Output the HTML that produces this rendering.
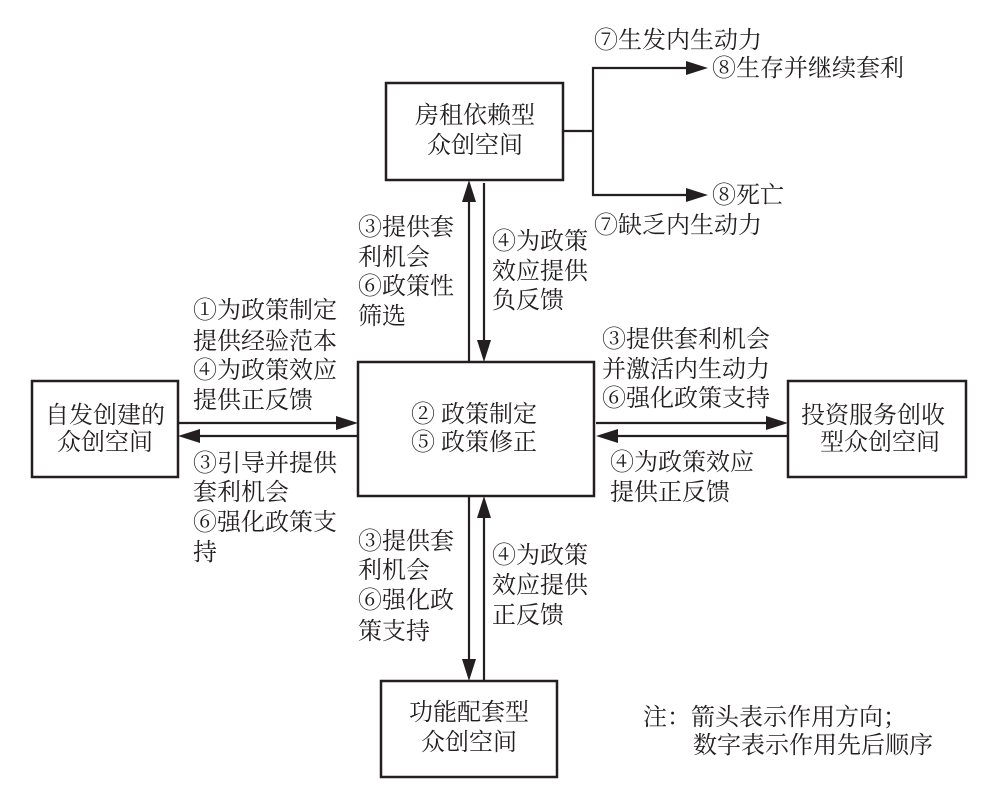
<!DOCTYPE html>
<html><head><meta charset="utf-8"><style>
html,body{margin:0;padding:0;background:#fff;}
svg{display:block;}
text{font-family:"Liberation Serif","Noto Serif CJK SC",serif;font-size:24px;fill:#231f20;}
</style></head><body>
<svg width="994" height="786" viewBox="0 0 994 786" xmlns="http://www.w3.org/2000/svg">
<g fill="none" stroke="#231f20" stroke-width="2.5">
<rect x="386" y="83" width="177" height="97"/>
<rect x="358" y="362" width="236" height="134"/>
<rect x="32" y="381" width="146" height="96"/>
<rect x="788" y="381" width="178" height="96"/>
<rect x="381" y="681" width="176" height="96"/>
</g>
<g stroke="#231f20" stroke-width="2.2" fill="none">
<polyline points="563,131 593,131"/>
<polyline points="688,68 593,68 593,195 688,195"/>
<line x1="469" y1="200" x2="469" y2="362"/>
<line x1="484" y1="183" x2="484" y2="342"/>
<line x1="178" y1="423" x2="338" y2="423"/>
<line x1="198" y1="436" x2="358" y2="436"/>
<line x1="596" y1="423" x2="768" y2="423"/>
<line x1="616" y1="436" x2="788" y2="436"/>
<line x1="469" y1="496" x2="469" y2="661"/>
<line x1="484" y1="516" x2="484" y2="681"/>
</g>
<g fill="#231f20">
<polygon points="708,68 686,61 686,75"/>
<polygon points="708,195 686,188 686,202"/>
<polygon points="469,180 462,202 476,202"/>
<polygon points="484,362 477,340 491,340"/>
<polygon points="358,423 336,416 336,430"/>
<polygon points="178,436 200,429 200,443"/>
<polygon points="788,423 766,416 766,430"/>
<polygon points="596,436 618,429 618,443"/>
<polygon points="469,681 462,659 476,659"/>
<polygon points="484,496 477,518 491,518"/>
</g>
<text x="475" y="123" text-anchor="middle">房租依赖型</text>
<text x="475" y="153" text-anchor="middle">众创空间</text>
<text x="411" y="422">② 政策制定</text>
<text x="411" y="450">⑤ 政策修正</text>
<text x="105" y="423" text-anchor="middle">自发创建的</text>
<text x="105" y="450" text-anchor="middle">众创空间</text>
<text x="801" y="423">投资服务创收</text>
<text x="820" y="450">型众创空间</text>
<text x="469" y="720" text-anchor="middle">功能配套型</text>
<text x="469" y="750" text-anchor="middle">众创空间</text>
<text x="594" y="48">⑦生发内生动力</text>
<text x="712" y="76">⑧生存并继续套利</text>
<text x="712" y="203">⑧死亡</text>
<text x="594" y="233">⑦缺乏内生动力</text>
<text x="358" y="235">③提供套</text>
<text x="358" y="265">利机会</text>
<text x="358" y="294">⑥政策性</text>
<text x="358" y="324">筛选</text>
<text x="492" y="249">④为政策</text>
<text x="492" y="279">效应提供</text>
<text x="492" y="308">负反馈</text>
<text x="193" y="318">①为政策制定</text>
<text x="193" y="349">提供经验范本</text>
<text x="193" y="378">④为政策效应</text>
<text x="193" y="408">提供正反馈</text>
<text x="193" y="471">③引导并提供</text>
<text x="193" y="500">套利机会</text>
<text x="193" y="530">⑥强化政策支</text>
<text x="193" y="560">持</text>
<text x="602" y="347">③提供套利机会</text>
<text x="602" y="377">并激活内生动力</text>
<text x="602" y="406">⑥强化政策支持</text>
<text x="610" y="470">④为政策效应</text>
<text x="610" y="500">提供正反馈</text>
<text x="358" y="549">③提供套</text>
<text x="358" y="578">利机会</text>
<text x="358" y="608">⑥强化政</text>
<text x="358" y="639">策支持</text>
<text x="492" y="563">④为政策</text>
<text x="492" y="593">效应提供</text>
<text x="492" y="623">正反馈</text>
<text x="643" y="725">注：箭头表示作用方向；</text>
<text x="693" y="753">数字表示作用先后顺序</text>
</svg>
</body></html>
